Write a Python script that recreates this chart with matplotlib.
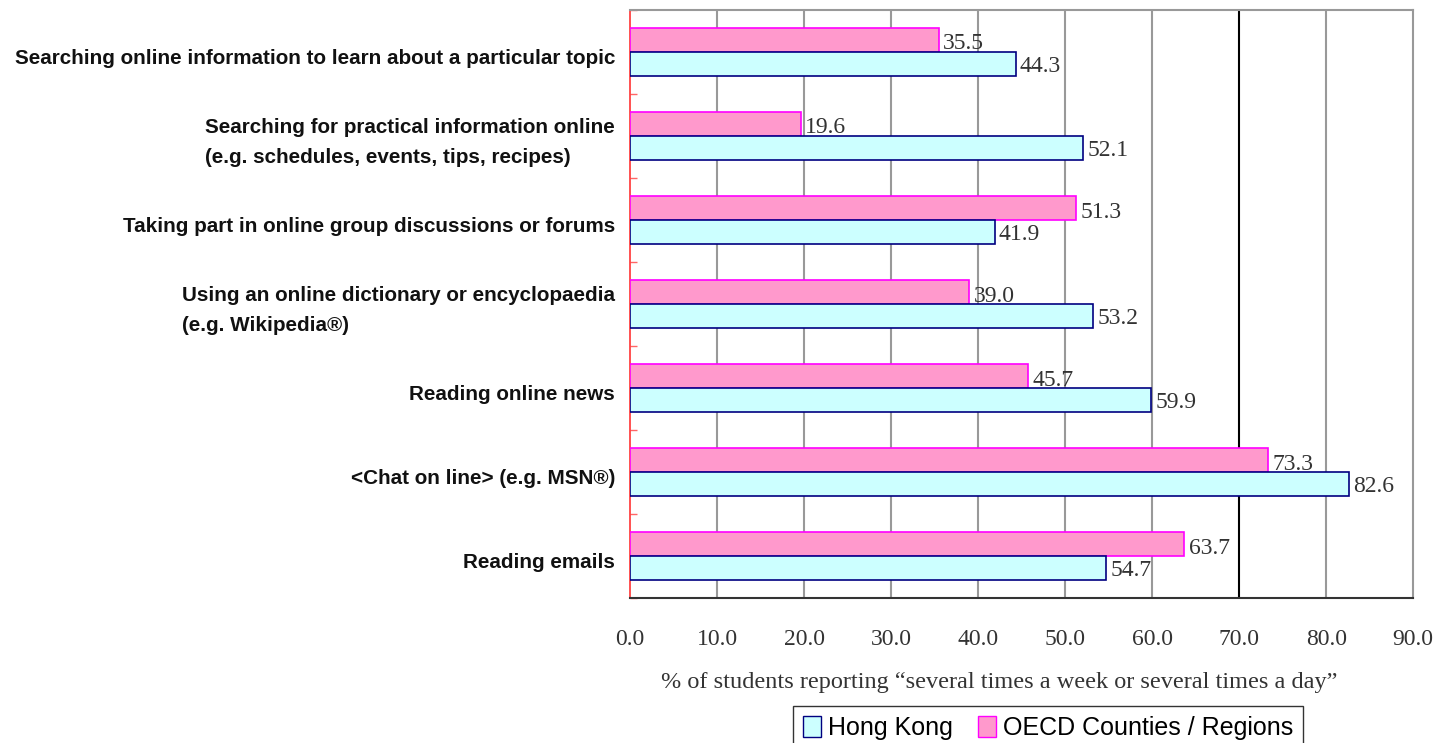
import numpy as np
import matplotlib
matplotlib.use("Agg")
import matplotlib.pyplot as plt
from matplotlib.patches import Patch

# ── data (top to bottom) ──────────────────────────────────────────────────────
categories = [
    "Searching online information to learn about a particular topic",
    "Searching for practical information online\n(e.g. schedules, events, tips, recipes)",
    "Taking part in online group discussions or forums",
    "Using an online dictionary or encyclopaedia\n(e.g. Wikipedia®)",
    "Reading online news",
    "<Chat on line> (e.g. MSN®)",
    "Reading emails",
]
hong_kong = [44.3, 52.1, 41.9, 53.2, 59.9, 82.6, 54.7]
oecd      = [35.5, 19.6, 51.3, 39.0, 45.7, 73.3, 63.7]
xticks    = [0, 10, 20, 30, 40, 50, 60, 70, 80, 90]

# ── palette ───────────────────────────────────────────────────────────────────
PINK_FACE, PINK_EDGE = "#FF99CC", "#FF00FF"
CYAN_FACE, CYAN_EDGE = "#CCFFFF", "#000080"
GRID = "#999999"
SERIF = "Liberation Serif"
SANS = "Liberation Sans"

fig = plt.figure(figsize=(14.45, 7.43), dpi=100, facecolor="white")
ax = fig.add_axes([0.436, 0.195, 0.542, 0.792])

n = len(categories)
y = np.arange(n)
h = 0.286

ax.barh(y - h / 2, oecd, height=h, color=PINK_FACE, edgecolor=PINK_EDGE,
        linewidth=1.2, zorder=3)
ax.barh(y + h / 2, hong_kong, height=h, color=CYAN_FACE, edgecolor=CYAN_EDGE,
        linewidth=1.2, zorder=3)

for yi, v in zip(y, oecd):
    ax.text(v + 0.5, yi - h / 2 + 0.05, f"{v:.1f}", va="center", ha="left",
            fontsize=17, color="#333333", family=SERIF, zorder=4)
for yi, v in zip(y, hong_kong):
    ax.text(v + 0.5, yi + h / 2 + 0.03, f"{v:.1f}", va="center", ha="left",
            fontsize=17, color="#333333", family=SERIF, zorder=4)

ax.set_xlim(0, 90)
ax.set_ylim(n - 0.5, -0.5)

# vertical grid lines (70 drawn darker)
for xv in xticks[1:-1]:
    ax.axvline(xv, color="black" if xv == 70 else GRID, linewidth=1.5, zorder=1)

ax.set_xticks(xticks)
ax.set_xticklabels([f"{v:.1f}" for v in xticks], family=SERIF, fontsize=17,
                   color="#333333")
ax.tick_params(axis="x", length=0, pad=22)

# category boundary ticks on the red left spine
ax.set_yticks(np.arange(n + 1) - 0.5, minor=True)
ax.set_yticks([])
ax.tick_params(axis="y", which="minor", direction="in", length=5,
               color="#FF6666", width=1)

for yi, lab in zip(y, categories):
    ax.text(-1.7, yi + 0.08, lab, ha="right", va="center", multialignment="left",
            fontsize=14.9, fontweight="bold", family=SANS, color="#111111",
            linespacing=1.75)

ax.spines["left"].set_color("#FF3333")
ax.spines["left"].set_linewidth(1.2)
ax.spines["top"].set_color(GRID)
ax.spines["top"].set_linewidth(1.5)
ax.spines["right"].set_color(GRID)
ax.spines["right"].set_linewidth(1.5)
ax.spines["bottom"].set_color("#333333")
ax.spines["bottom"].set_linewidth(1.5)

ax.set_xlabel("% of students reporting \u201cseveral times a week or several times a day\u201d",
              family=SERIF, fontsize=17.5, color="#333333")
ax.xaxis.set_label_coords(0.471, -0.125)

handles = [Patch(facecolor=CYAN_FACE, edgecolor=CYAN_EDGE, label="Hong Kong"),
           Patch(facecolor=PINK_FACE, edgecolor=PINK_EDGE, label="OECD Counties / Regions")]
fig.legend(handles=handles, loc="upper left", bbox_to_anchor=(0.549, 0.05),
           ncol=2, frameon=True, fancybox=False, edgecolor="black",
           prop={"family": SANS, "size": 18}, handlelength=0.7, handleheight=0.9,
           handletextpad=0.3, columnspacing=1.0, borderpad=0.4, borderaxespad=0)

fig.savefig("out.png", dpi=100, facecolor="white")
